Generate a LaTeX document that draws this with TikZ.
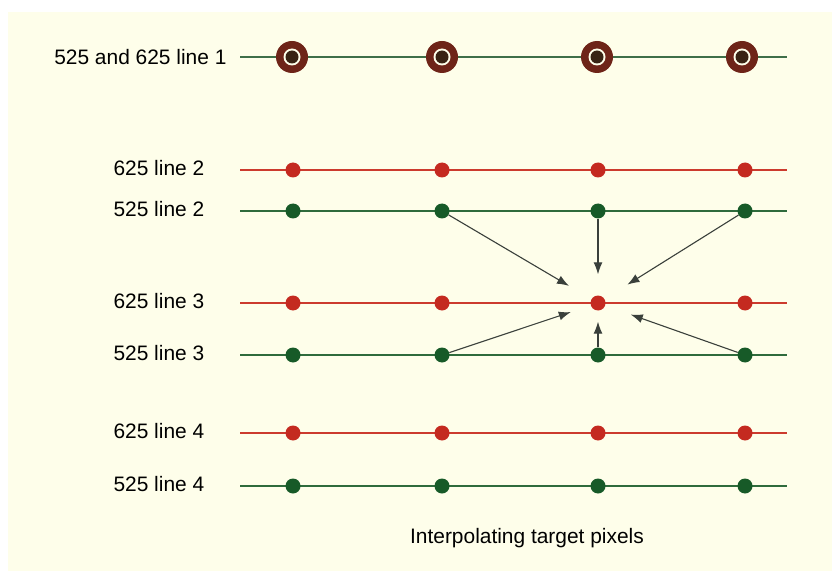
\documentclass[tikz,border=0pt]{standalone}
\usepackage{fontspec}
\setmainfont{Liberation Sans}
\usetikzlibrary{arrows.meta}
\definecolor{cream}{HTML}{FEFEEA}
\definecolor{redline}{HTML}{CC3B2E}
\definecolor{reddot}{HTML}{C42A20}
\definecolor{greenline}{HTML}{2F6B3C}
\definecolor{greendot}{HTML}{175A28}
\definecolor{maroon}{HTML}{6E2418}
\definecolor{arrowgray}{HTML}{3A403B}

\tikzset{
  dot/.style={circle,inner sep=0pt,minimum size=15bp},
  ring/.style={circle,inner sep=0pt,minimum size=32bp,fill=maroon,
    path picture={\fill[cream] (path picture bounding box.center) circle (8.5bp);
                  \fill[maroon!60!black!80!greendot] (path picture bounding box.center) circle (6.5bp);}},
  arr/.style={->,arrowgray,line width=1.1bp},
}

\begin{document}
\begin{tikzpicture}[x=1bp,y=-1bp,font=\fontsize{21}{24}\selectfont,>={Latex[length=12bp,width=9bp]}]
\useasboundingbox (0,0) rectangle (832,571);
\fill[cream] (8,12) rectangle (832,571);
% line 1, both standards
\coordinate (L1) at (240,57); \coordinate (R1) at (787,57);
\draw[line width=2.2bp,greenline!80!gray] (L1)--(R1);
\node[anchor=east] (lab1) at (230,57) {525 and 625 line 1};
\foreach \x/\k in {292/a,442/b,597/c,742/d}{\node[ring] (t\k) at (\x,57) {};}
% lines 2 to 4
\foreach \r/\y/\c/\t in {r2/170/red/625 line 2,g2/211/green/525 line 2,r3/303/red/625 line 3,g3/355/green/525 line 3,r4/433/red/625 line 4,g4/486/green/525 line 4}{
  \coordinate (L\r) at (240,\y); \coordinate (R\r) at (787,\y);
  \draw[line width=2.2bp,\c line] (L\r)--(R\r);
  \node[anchor=west] (lab\r) at (110,\y-2) {\t};
  \foreach \x/\k in {293/a,442/b,598/c,745/d}{\node[dot,fill=\c dot] (\r\k) at (\x,\y) {};}
}
% interpolation arrows
\draw[arr,shorten >=26bp] (g2b)--(r3c);
\draw[arr,shorten >=21bp] (g2c)--(r3c);
\draw[arr,shorten >=27bp] (g2d)--(r3c);
\draw[arr,shorten >=21bp] (g3b)--(r3c);
\draw[arr,shorten >=11bp] (g3c)--(r3c);
\draw[arr,shorten >=27bp] (g3d)--(r3c);
\node[anchor=base] (caption) at (527,543) {Interpolating target pixels};
\end{tikzpicture}
\end{document}
